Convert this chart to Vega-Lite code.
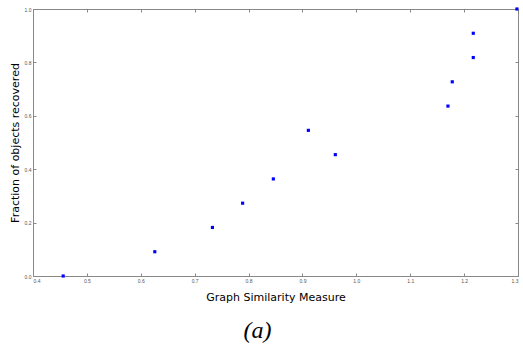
{
  "$schema": "https://vega.github.io/schema/vega-lite/v6.json",
  "width": 485,
  "height": 267,
  "autosize": {"type": "none"},
  "padding": {"left": 33, "top": 9, "right": 5, "bottom": 71},
  "background": "white",
  "config": {"view": {"stroke": null}},
  "title": {"text": "(a)", "orient": "bottom", "anchor": "middle", "dx": -18, "offset": 17, "font": "Liberation Serif", "fontStyle": "italic", "fontWeight": "normal", "fontSize": 24, "color": "black"},
  "data": {"values": [
    {"similarity": 0.456, "fraction": 0.0},
    {"similarity": 0.626, "fraction": 0.0909},
    {"similarity": 0.733, "fraction": 0.1818},
    {"similarity": 0.789, "fraction": 0.2727},
    {"similarity": 0.846, "fraction": 0.3636},
    {"similarity": 0.911, "fraction": 0.5455},
    {"similarity": 0.961, "fraction": 0.4545},
    {"similarity": 1.170, "fraction": 0.6364},
    {"similarity": 1.178, "fraction": 0.7273},
    {"similarity": 1.217, "fraction": 0.8182},
    {"similarity": 1.217, "fraction": 0.9091},
    {"similarity": 1.298, "fraction": 1.0}
  ]},
  "layer": [
    {
      "mark": {"type": "point", "filled": true, "shape": "square", "size": 10, "color": "#0000ff", "opacity": 1, "clip": false},
      "encoding": {
        "x": {"field": "similarity", "type": "quantitative", "scale": {"domain": [0.4, 1.3], "nice": false, "zero": false},
          "axis": {"title": "Graph Similarity Measure", "values": [0.4,0.5,0.6,0.7,0.8,0.9,1.0,1.1,1.2,1.3], "format": ".1f", "grid": false,
            "labelFontSize": 5, "labelColor": "#555", "labelPadding": 5, "tickSize": -3, "tickColor": "#888", "domainColor": "#888",
            "titleFont": "DejaVu Sans", "titleFontSize": 11, "titleFontWeight": "normal", "titleColor": "black", "titleY": 21, "titleBaseline": "middle"}},
        "y": {"field": "fraction", "type": "quantitative", "scale": {"domain": [0, 1], "nice": false},
          "axis": {"title": "Fraction of objects recovered", "values": [0,0.2,0.4,0.6,0.8,1.0], "format": ".1f", "grid": false,
            "labelFontSize": 5, "labelColor": "#555", "labelPadding": 5, "tickSize": -3, "tickColor": "#888", "domainColor": "#888",
            "titleFont": "DejaVu Sans", "titleFontSize": 11, "titleFontWeight": "normal", "titleColor": "black", "titleX": -18, "titleY": 133.5, "titleBaseline": "middle", "titleAngle": 270}}
      }
    },
    {
      "mark": {"type": "point", "opacity": 0},
      "encoding": {
        "x": {"field": "similarity", "type": "quantitative", "axis": {"orient": "top", "title": null, "labels": false, "values": [0.4,0.5,0.6,0.7,0.8,0.9,1.0,1.1,1.2,1.3], "tickSize": -3, "tickColor": "#888", "domainColor": "#888", "grid": false}},
        "y": {"field": "fraction", "type": "quantitative", "axis": {"orient": "right", "title": null, "labels": false, "values": [0,0.2,0.4,0.6,0.8,1.0], "tickSize": -3, "tickColor": "#888", "domainColor": "#888", "grid": false}}
      }
    }
  ],
  "resolve": {"axis": {"x": "independent", "y": "independent"}}
}
